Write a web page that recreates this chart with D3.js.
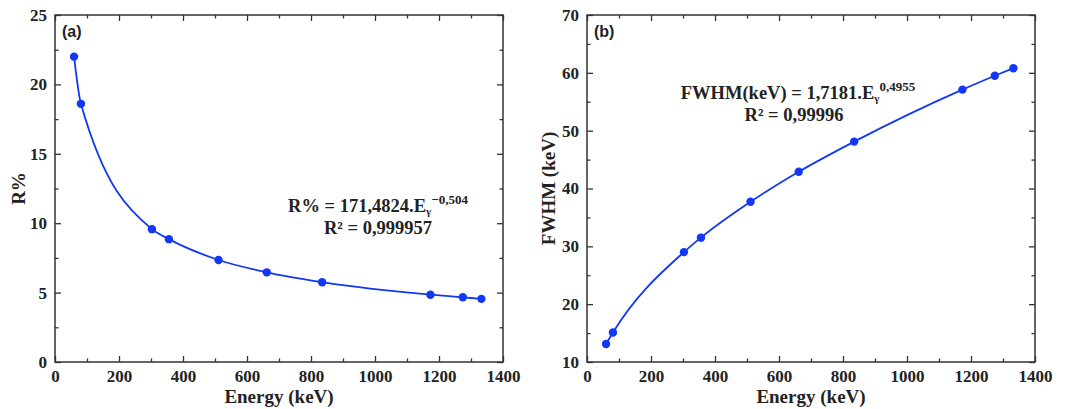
<!DOCTYPE html>
<html lang="en">
  <head>
    <meta charset="UTF-8" />
    <title>Energy resolution and FWHM vs energy</title>
    <style>
      body { margin: 0; background: #fff; }
      svg text { font-family: 'Liberation Serif', 'Times New Roman', serif; font-weight: bold; fill: #222; }
      .frame { fill: none; stroke: #333; stroke-width: 1.5px; }
      .tick line { stroke: #333; stroke-width: 1.3px; }
      .domain { display: none; }
      .fit { fill: none; stroke: #1238f5; stroke-width: 1.8px; }
      .dot { fill: #1238f5; }
      svg text.panel-tag { font-family: 'Liberation Sans', Arial, sans-serif; }
    </style>
  </head>
  <body>
    <svg width="1069" height="409"></svg>
    <script src="https://cdn.jsdelivr.net/npm/d3@7"></script>
    <script>
      const energy = [59.5, 81, 302.9, 356, 511, 661.7, 834.8, 1173.2, 1274.5, 1332.5];
      const resolution = [22.0, 18.6, 9.57, 8.85, 7.35, 6.46, 5.75, 4.85, 4.66, 4.55];
      const fwhm = [13.1, 15.1, 29.0, 31.5, 37.7, 42.9, 48.1, 57.1, 59.5, 60.8];

      const xTicks = [0, 200, 400, 600, 800, 1000, 1200, 1400];
      const yTicksA = [0, 5, 10, 15, 20, 25];
      const yTicksB = [10, 20, 30, 40, 50, 60, 70];

      var svg = d3.select('svg');
      var serif = "'Liberation Serif', 'Times New Roman', serif";

      function styleAxis(sel) {
        sel.attr('font-family', serif).attr('font-weight', 'bold');
        sel.selectAll('text').style('font-size', '17px').style('font-family', serif).attr('fill', '#222');
      }

      function panel(opt) {
        var w = 448, h = 347;
        var g = svg.append('g').attr('transform', 'translate(' + opt.left + ',15)');

        var x = d3.scaleLinear().domain([0, 1400]).range([0, w]);
        var y = d3.scaleLinear().domain(opt.yDomain).range([h, 0]);

        var xMinor = d3.range(100, 1400, 200);
        var yStep = opt.yTicks[1] - opt.yTicks[0];
        var yMinor = opt.yTicks.slice(0, -1).map((v) => v + yStep / 2);

        // major + minor ticks, pointing inward on all four sides
        g.append('g').attr('transform', 'translate(0,' + h + ')')
          .call(d3.axisBottom(x).tickValues(xTicks).tickFormat(d3.format('d'))
            .tickSizeInner(-6).tickSizeOuter(0).tickPadding(8))
          .call(styleAxis);
        g.append('g').attr('transform', 'translate(0,' + h + ')')
          .call(d3.axisBottom(x).tickValues(xMinor).tickSize(-3.5).tickFormat(''));
        g.append('g').call(d3.axisTop(x).tickValues(xTicks).tickSize(-6).tickFormat(''));
        g.append('g').call(d3.axisTop(x).tickValues(xMinor).tickSize(-3.5).tickFormat(''));

        g.append('g')
          .call(d3.axisLeft(y).tickValues(opt.yTicks).tickFormat(d3.format('d'))
            .tickSizeInner(-6).tickSizeOuter(0).tickPadding(8))
          .call(styleAxis);
        g.append('g').call(d3.axisLeft(y).tickValues(yMinor).tickSize(-3.5).tickFormat(''));
        g.append('g').attr('transform', 'translate(' + w + ',0)')
          .call(d3.axisRight(y).tickValues(opt.yTicks).tickSize(-6).tickFormat(''));
        g.append('g').attr('transform', 'translate(' + w + ',0)')
          .call(d3.axisRight(y).tickValues(yMinor).tickSize(-3.5).tickFormat(''));

        g.append('rect').attr('class', 'frame').attr('width', w).attr('height', h);

        var pts = energy.map((e, i) => [e, opt.values[i]]);
        var line = d3.line().x((d) => x(d[0])).y((d) => y(d[1])).curve(d3.curveMonotoneX);
        g.append('path').datum(pts).attr('class', 'fit').attr('d', line);
        g.selectAll('.dot').data(pts).enter().append('circle')
          .attr('class', 'dot').attr('r', 4.2)
          .attr('cx', (d) => x(d[0])).attr('cy', (d) => y(d[1]));

        g.append('text').attr('class', 'panel-tag').attr('x', 7).attr('y', 22)
          .style('font-size', '16px').text(opt.tag);

        g.append('text').attr('x', w / 2).attr('y', h + 41)
          .attr('text-anchor', 'middle').style('font-size', '19px').text('Energy (keV)');
        g.append('text').attr('transform', 'translate(' + opt.yTitleX + ',' + h / 2 + ') rotate(-90)')
          .attr('text-anchor', 'middle').style('font-size', '19px').text(opt.yTitle);

        // fit equation
        var eq = g.append('text').attr('x', opt.eqX).attr('y', opt.eqY)
          .attr('text-anchor', 'middle').style('font-size', '18.5px');
        eq.append('tspan').text(opt.eqHead + 'E');
        eq.append('tspan').attr('dy', 3).style('font-size', '11px').text('γ');
        eq.append('tspan').attr('dy', -11).style('font-size', '13px').text(opt.eqExp);
        g.append('text').attr('x', opt.eqX - opt.r2Shift).attr('y', opt.eqY + 22)
          .attr('text-anchor', 'middle').style('font-size', '18.5px').text(opt.r2);
      }

      panel({
        left: 55, yDomain: [0, 25], yTicks: yTicksA, values: resolution,
        tag: '(a)', yTitle: 'R%', yTitleX: -30,
        eqX: 323, eqY: 197, eqHead: 'R% = 171,4824.', eqExp: '−0,504',
        r2: 'R² = 0,999957', r2Shift: 0
      });
      panel({
        left: 587, yDomain: [10, 70], yTicks: yTicksB, values: fwhm,
        tag: '(b)', yTitle: 'FWHM (keV)', yTitleX: -32,
        eqX: 211, eqY: 84, eqHead: 'FWHM(keV) = 1,7181.', eqExp: '0,4955',
        r2: 'R² = 0,99996', r2Shift: 4
      });
    </script>
  </body>
</html>
